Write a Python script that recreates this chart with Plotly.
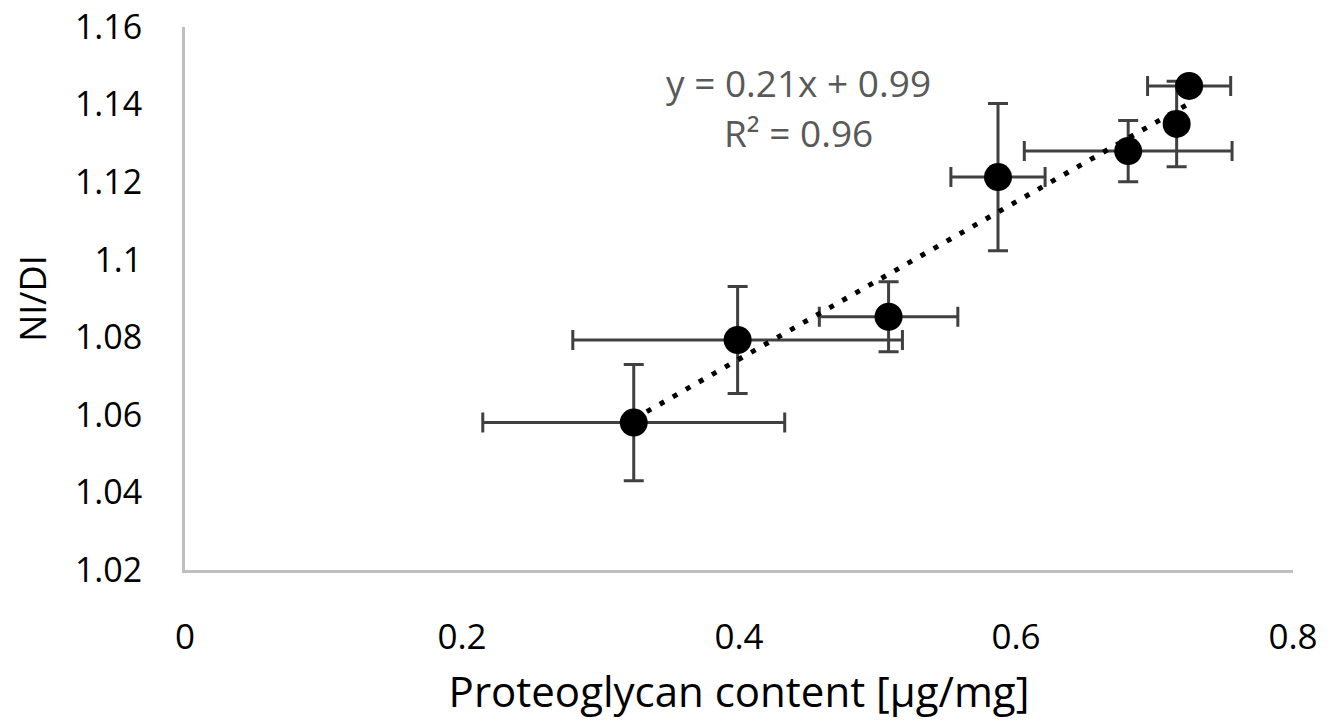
import numpy as np
import plotly.graph_objects as go

# Data
pg_content = [0.324, 0.399, 0.508, 0.587, 0.681, 0.716, 0.725]
ni_di = [1.058, 1.0793, 1.0853, 1.1213, 1.128, 1.135, 1.1448]
pg_err = [0.109, 0.119, 0.050, 0.034, 0.075, 0.0, 0.030]
ni_di_err = [0.015, 0.0138, 0.009, 0.019, 0.0079, 0.011, 0.0]

x_ticks = [0, 0.2, 0.4, 0.6, 0.8]
x_tick_text = ["0", "0.2", "0.4", "0.6", "0.8"]
y_ticks = [1.02, 1.04, 1.06, 1.08, 1.10, 1.12, 1.14, 1.16]
y_tick_text = ["1.02", "1.04", "1.06", "1.08", "1.1", "1.12", "1.14", "1.16"]

eq_text = "y = 0.21x + 0.99"
r2_text = "R² = 0.96"

# Linear trendline fitted from the data
slope, intercept = np.polyfit(pg_content, ni_di, 1)
x_fit = [min(pg_content), max(pg_content)]
y_fit = [slope * v + intercept for v in x_fit]

FONT = "Open Sans"
ERR_COLOR = "#404040"

fig = go.Figure()

fig.add_trace(go.Scatter(
    x=pg_content, y=ni_di, mode="markers",
    marker=dict(color="black", size=28),
    error_x=dict(type="data", array=pg_err, visible=True,
                 color=ERR_COLOR, thickness=3, width=10),
    error_y=dict(type="data", array=ni_di_err, visible=True,
                 color=ERR_COLOR, thickness=3, width=10),
    showlegend=False, cliponaxis=False,
))

fig.add_trace(go.Scatter(
    x=x_fit, y=y_fit, mode="lines",
    line=dict(color="black", width=5, dash="5px,10px"),
    showlegend=False, hoverinfo="skip",
))

fig.add_annotation(x=0.443, y=1.1456, xref="x", yref="y", text=eq_text,
                   showarrow=False, font=dict(family=FONT, size=37, color="#595959"))
fig.add_annotation(x=0.443, y=1.1327, xref="x", yref="y", text=r2_text,
                   showarrow=False, font=dict(family=FONT, size=37, color="#595959"))

fig.update_layout(
    width=1333, height=724,
    margin=dict(l=185, r=40, t=27, b=154),
    paper_bgcolor="white", plot_bgcolor="white",
    font=dict(family=FONT, color="black"),
    xaxis=dict(
        range=[0, 0.8], tickvals=x_ticks, ticktext=x_tick_text,
        showgrid=False, zeroline=False, showline=True,
        linecolor="#BFBFBF", linewidth=3,
        ticks="", ticklabelstandoff=34, ticklabeloverflow="allow",
        tickfont=dict(family=FONT, size=35, color="black"),
        title=dict(text="Proteoglycan content [μg/mg]", standoff=20,
                   font=dict(family=FONT, size=42, color="black")),
        automargin=False,
    ),
    yaxis=dict(
        range=[1.02, 1.16], tickvals=y_ticks, ticktext=y_tick_text,
        showgrid=False, zeroline=False, showline=True,
        linecolor="#BFBFBF", linewidth=3,
        ticks="", ticklabelstandoff=33, ticklabeloverflow="allow",
        tickfont=dict(family=FONT, size=34, color="black"),
        title=dict(text="NI/DI", standoff=18,
                   font=dict(family=FONT, size=36, color="black")),
        automargin=False,
    ),
)

fig.write_html("out.html",
               config={"displayModeBar": False},
               post_script="document.body.style.margin='0';document.body.style.overflow='hidden';")
